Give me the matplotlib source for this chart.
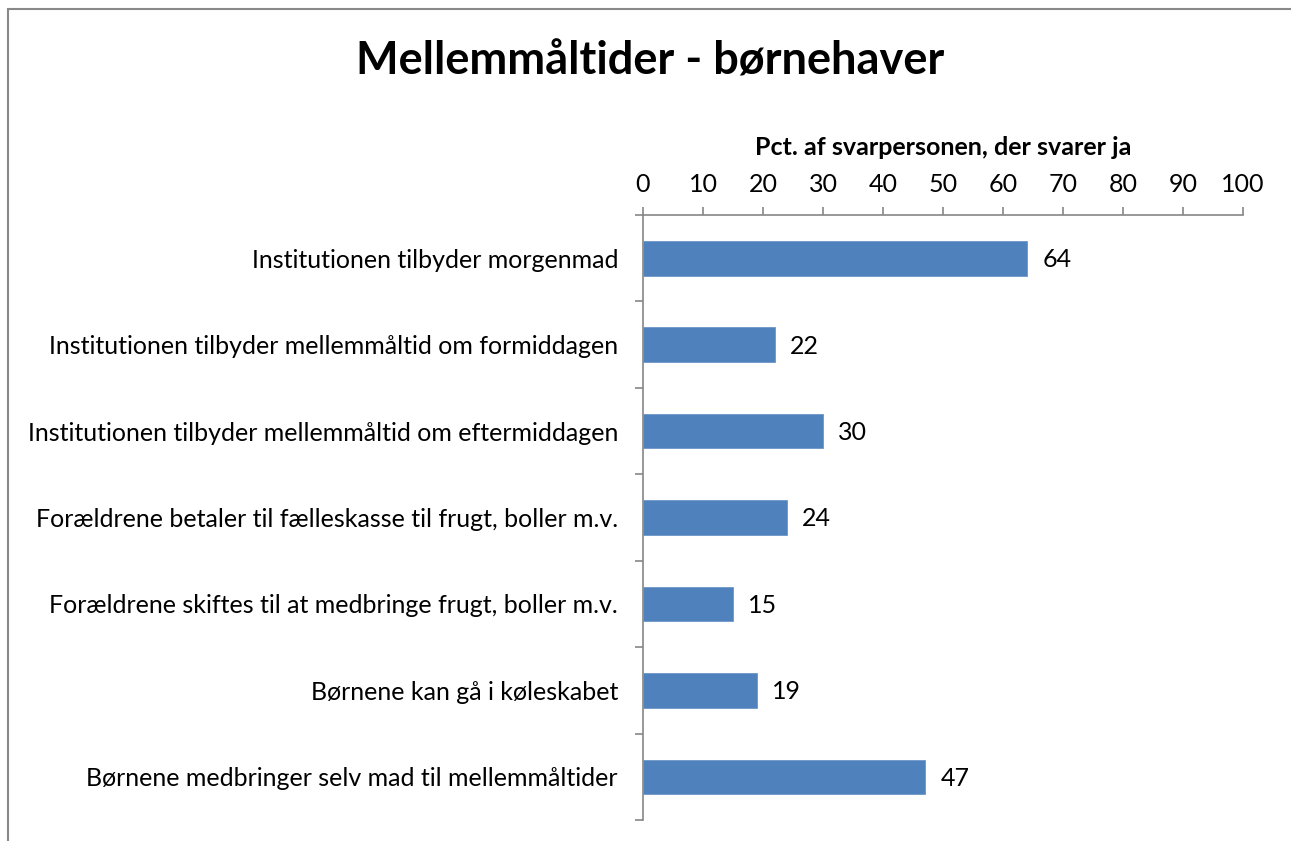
import numpy as np
import matplotlib
matplotlib.use("Agg")
import matplotlib.pyplot as plt
from matplotlib.patches import Rectangle

# -----------------------------------------------------------------------------
# DATA
# -----------------------------------------------------------------------------
categories = [
    "Institutionen tilbyder morgenmad",
    "Institutionen tilbyder mellemmåltid om formiddagen",
    "Institutionen tilbyder mellemmåltid om eftermiddagen",
    "Forældrene betaler til fælleskasse til frugt, boller m.v.",
    "Forældrene skiftes til at medbringe frugt, boller m.v.",
    "Børnene kan gå i køleskabet",
    "Børnene medbringer selv mad til mellemmåltider",
]
values = [64, 22, 30, 24, 15, 19, 47]
x_ticks = [0, 10, 20, 30, 40, 50, 60, 70, 80, 90, 100]

title = "Mellemmåltider - børnehaver"
x_label = "Pct. af svarpersonen, der svarer ja"

_BAR = "#4F81BD"
_AXIS = "#868686"
_BORDER = "#898989"

plt.rcParams.update({
    "font.family": ["Lato", "DejaVu Sans"],
    "font.size": 18,
})

W, H = 1291, 841
fig = plt.figure(figsize=(W / 100, H / 100), dpi=100)
fig.patch.set_facecolor("white")

# chart border (top and left visible, rest cropped)
fig.add_artist(Rectangle((7.5 / W, -0.1), 1.2, 1.1 - 9.5 / H,
                         transform=fig.transFigure, fill=False,
                         edgecolor=_BORDER, lw=1.5))

ax = fig.add_axes([643 / W, 1 - 820 / H, 600 / W, (820 - 215) / H])

y = np.arange(len(categories))
ax.barh(y, values, height=0.4, color=_BAR, edgecolor="#6d96c9", lw=0.6,
        zorder=3)

for yi, v in zip(y, values):
    ax.annotate(f"{v}", (v, yi), xytext=(11, -1), textcoords="offset points",
                ha="left", va="center", fontsize=18)

ax.set_ylim(len(categories) - 0.5, -0.5)
ax.set_xlim(0, 100)

ax.xaxis.tick_top()
ax.xaxis.set_label_position("top")
ax.set_xticks(x_ticks)
ax.set_xticklabels([str(t) for t in x_ticks])
ax.set_xlabel(x_label, fontweight="bold", fontsize=18, labelpad=13)

ax.set_yticks(y)
ax.set_yticklabels(categories)
ax.set_yticks(np.arange(len(categories) + 1) - 0.5, minor=True)
ax.tick_params(axis="y", which="major", length=0, pad=18)
ax.tick_params(axis="y", which="minor", length=6, color=_AXIS, width=1.2)
ax.tick_params(axis="x", length=6, color=_AXIS, width=1.2, pad=8)

for side in ("right", "bottom"):
    ax.spines[side].set_visible(False)
for side in ("top", "left"):
    ax.spines[side].set_color(_AXIS)
    ax.spines[side].set_linewidth(1.2)

fig.text(650 / W, 1 - 62 / H, title, ha="center", va="center",
         fontsize=32.5, fontweight="bold")

fig.savefig("out.png", dpi=100, facecolor="white")
